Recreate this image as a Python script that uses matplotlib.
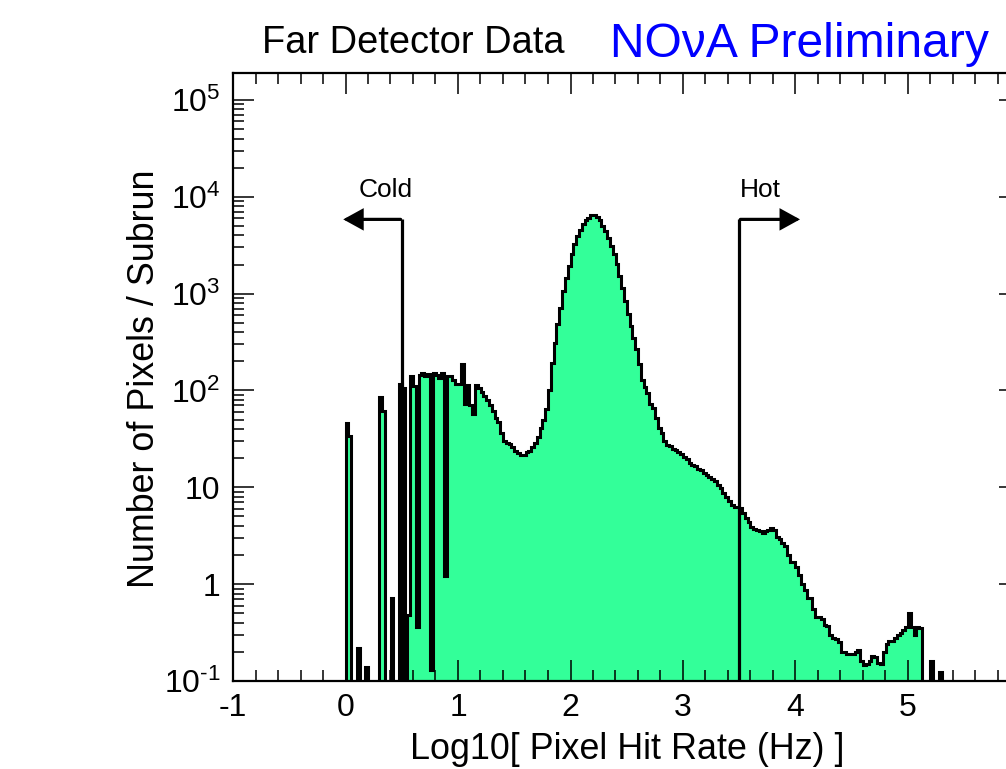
import numpy as np
import matplotlib
matplotlib.use('Agg')
import matplotlib.pyplot as plt

plt.rcParams['font.family'] = ['Liberation Sans', 'DejaVu Sans']
plt.rcParams['mathtext.fontset'] = 'custom'
plt.rcParams['mathtext.rm'] = 'Liberation Sans'
plt.rcParams['mathtext.default'] = 'regular'
plt.rcParams['axes.unicode_minus'] = False

# histogram binning: log10(rate) from 0.0 in steps of 0.025
first_edge = 0.0
bin_width = 0.025

# 0.000 - 0.875 : sparse / spiky cold region
counts_cold = [46, 34, 0, 0, 0.22, 0, 0, 0.14, 0, 0,
               0, 0, 85, 62, 0, 0, 0.72, 0, 0, 118,
               105, 0, 0.48, 142, 110, 0.36, 145, 150, 140, 148,
               0.13, 150, 145, 135, 150, 1.2]
# 0.900 - 1.800 : shoulder and dip
counts_shoulder = [142, 140, 127, 118, 118, 190, 73, 113, 70, 57,
                   113, 105, 97, 88, 80, 70, 62, 52, 47, 36,
                   30, 29, 28, 26, 24, 22.5, 21.5, 21.5, 23, 24,
                   26, 29, 33, 41, 50, 65, 100]
# 1.825 - 2.625 : main peak
counts_peak = [194, 313, 491, 718, 1075, 1462, 1945, 2585, 3275, 3960,
               4570, 5270, 5800, 6080, 6520, 6500, 6200, 5800, 5020, 4460,
               3780, 3120, 2585, 2040, 1535, 1155, 848, 622, 468, 352,
               271, 190, 127]
# 2.650 - 4.000 : falling tail
counts_tail = [108, 95, 73, 66, 52, 41, 36, 30, 27.5, 26.5,
               25, 24.5, 23, 22, 20.5, 19.5, 18, 17.2, 16.5, 15.3,
               15, 13.9, 13.3, 12.7, 12.1, 11.5, 10.5, 9.8, 8.7, 7.9,
               7.2, 6.6, 6.2, 6.2, 6.1, 5.4, 4.8, 4.4, 3.9, 3.7,
               3.6, 3.5, 3.35, 3.5, 3.6, 3.8, 3.6, 3.05, 2.9, 2.65,
               2.5, 2.0, 1.7, 1.7]
# 4.000 - 5.300 : hot region
counts_hot = [1.5, 1.25, 1.0, 0.87, 0.72, 0.72, 0.55, 0.46, 0.46, 0.44,
              0.38, 0.37, 0.30, 0.28, 0.27, 0.25, 0.2, 0.2, 0.19, 0.19,
              0.19, 0.2, 0.21, 0.16, 0.145, 0.15, 0.16, 0.18, 0.175, 0.155,
              0.15, 0.2, 0.24, 0.26, 0.26, 0.28, 0.3, 0.31, 0.34, 0.36,
              0.5, 0.36, 0.3, 0.36, 0.35, 0, 0, 0, 0.16, 0,
              0, 0.125]

cold_cut = 0.5
hot_cut = 3.5

xticks = [-1, 0, 1, 2, 3, 4, 5, 6]
xtick_labels = ['-1', '0', '1', '2', '3', '4', '5', '']
yticks = [0.1, 1, 10, 100, 1e3, 1e4, 1e5]
ytick_labels = [r'$10^{\text{-}1}$', '1', '10', '$10^{2}$', '$10^{3}$', '$10^{4}$', '$10^{5}$']

counts = np.array(counts_cold + counts_shoulder + counts_peak + counts_tail + counts_hot, dtype=float)
edges = first_edge + bin_width * np.arange(len(counts) + 1)
floor = 1e-3
shown = np.where(counts > 0, counts, floor)

W, H = 1006, 769
fig = plt.figure(figsize=(W / 100, H / 100), dpi=100)
ax = fig.add_axes([233 / W, 88 / H, 787.5 / W, 608 / H])
ax.set_yscale('log')
ax.set_xlim(-1, 6)
ax.set_ylim(0.1, 1.9e5)

ax.stairs(shown, edges, fill=True, baseline=floor, color='#33ff99', lw=0)
ax.stairs(shown, edges, fill=False, baseline=floor, color='black', lw=2.2)

# cut lines with arrows
top = 5850
ax.plot([cold_cut, cold_cut], [0.1, top], color='black', lw=2.3, solid_capstyle='butt')
ax.plot([hot_cut, hot_cut], [0.1, top], color='black', lw=2.3, solid_capstyle='butt')
arrow = dict(arrowstyle='-|>,head_length=0.4,head_width=0.22', lw=2.3, color='black',
             mutation_scale=28, shrinkA=0, shrinkB=0, joinstyle='miter')
ax.annotate('', xy=(-0.02, top), xytext=(cold_cut - 0.01, top), arrowprops=arrow)
ax.annotate('', xy=(4.04, top), xytext=(hot_cut + 0.01, top), arrowprops=arrow)
ax.text(0.36, 1.0e4, 'Cold', ha='center', va='baseline', fontsize=19)
ax.text(3.69, 1.0e4, 'Hot', ha='center', va='baseline', fontsize=19)

ax.set_xticks(xticks)
ax.set_xticklabels(xtick_labels)
ax.set_xticks(np.arange(-1, 6.01, 0.2), minor=True)
ax.set_yticks(yticks)
ax.set_yticklabels(ytick_labels)
ax.yaxis.set_minor_locator(matplotlib.ticker.LogLocator(base=10, subs=np.arange(2, 10), numticks=20))
ax.yaxis.set_minor_formatter(matplotlib.ticker.NullFormatter())

ax.tick_params(which='both', direction='in', top=True, right=True, width=1.1, labelsize=23)
ax.tick_params(which='major', length=15)
ax.tick_params(which='minor', length=8)
ax.tick_params(axis='x', which='major', pad=9)
ax.tick_params(axis='y', which='major', pad=9)
for s in ax.spines.values():
    s.set_linewidth(1.6)

fig.text(626.7 / W, 10 / H, 'Log10[ Pixel Hit Rate (Hz) ]', ha='center', va='baseline', fontsize=25.8)
fig.text(144 / W, (H - 379) / H, 'Number of Pixels / Subrun', ha='center', va='center',
         rotation=90, fontsize=25.8)
fig.text(262 / W, (H - 53) / H, 'Far Detector Data', ha='left', va='baseline', fontsize=27.4)
fig.text(610 / W, (H - 57) / H, 'NO\u03bdA Preliminary', ha='left', va='baseline',
         fontsize=34.6, color='#0000ff')

fig.savefig('out.png', dpi=100)
